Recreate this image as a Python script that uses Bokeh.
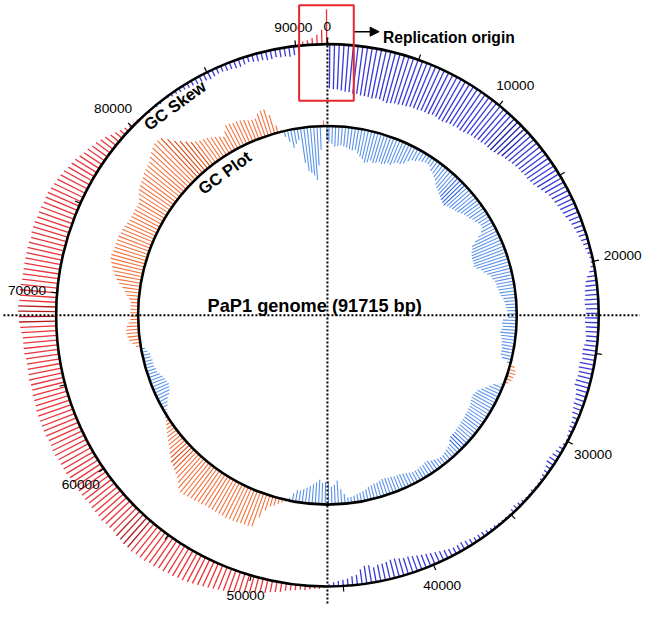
import numpy as np
from bokeh.plotting import figure
from bokeh.models import Range1d, Arrow, NormalHead
from bokeh.core.properties import value
from bokeh.embed import file_html
from bokeh.resources import INLINE

# ---------------- data ----------------
GENOME_BP = 91715
WINDOW_BP = 255   # 360 windows around the genome

# GC skew per window (scaled; + drawn outward in red, - drawn inward in blue)
gc_skew = [
    -45, -46, -46, -47, -48, -48, -49, -49, -50, -50,
    -50, -51, -50, -50, -51, -52, -51, -50, -50, -49,
    -49, -48, -48, -48, -47, -47, -47, -46, -46, -47,
    -47, -46, -45, -45, -44, -45, -44, -43, -42, -42,
    -41, -41, -40, -40, -40, -39, -38, -36, -35, -34,
    -33, -32, -31, -31, -30, -30, -29, -28, -26, -24,
    -22, -20, -19, -18, -17, -16, -15, -14, -12, -11,
    -10, -9, -8, -7, -6, -5, -4, -3, -3, -4,
    -6, -9, -11, -12, -13, -13, -14, -14, -13, -13,
    -14, -14, -13, -13, -12, -12, -13, -14, -14, -13,
    -15, -15, -14, -14, -15, -15, -12, -11, -10, -10,
    -9, -8, -6, -5, -5, -4, -3, -2, -3, -5,
    -6, -7, -8, -8, -6, -5, -4, -3, -2, -2,
    -3, -2, -2, -3, -4, -5, -4, -2, -2, -2,
    -2, -3, -3, -4, -5, -5, -5, -6, -7, -8,
    -7, -7, -8, -9, -10, -11, -12, -13, -14, -15,
    -16, -17, -17, -18, -19, -19, -18, -17, -17, -15,
    -18, -18, -15, -10, -9, -7, -6, -5, -4, -2,
    2, 3, 3, 4, 5, 5, 6, 7, 8, 10,
    11, 12, 14, 15, 16, 18, 19, 20, 22, 23,
    24, 25, 26, 27, 28, 29, 30, 31, 32, 32,
    33, 33, 34, 34, 35, 35, 36, 36, 36, 37,
    36, 36, 35, 35, 34, 34, 34, 35, 34, 34,
    34, 33, 34, 34, 34, 35, 34, 34, 35, 35,
    35, 35, 36, 36, 35, 35, 36, 36, 36, 36,
    36, 36, 35, 35, 35, 34, 34, 35, 34, 34,
    34, 34, 35, 35, 35, 35, 36, 37, 38, 38,
    39, 39, 38, 38, 38, 38, 37, 37, 37, 37,
    37, 37, 37, 37, 36, 37, 37, 37, 36, 36,
    36, 35, 35, 35, 34, 33, 32, 31, 30, 28,
    27, 26, 24, 22, 21, 19, 18, 16, 14, 11,
    9, 7, 5, 3, 2, 2, 1, -1, -2, -1,
    -2, -2, 1, -2, -3, -3, -4, -4, -5, -5,
    -6, -6, -7, -8, -7, -6, -6, -7, -7, -8,
    -8, -7, -6, -7, -8, -8, -9, -9, -8, -9,
    -9, -10, -9, -8, 4, 5, 7, 10, 15, 36,
]

# GC content deviation per window (scaled; + outward orange, - inward blue)
gc_plot = [
    -16, -18, -21, -20, -19, -20, -21, -22, -23, -22,
    -25, -28, -30, -33, -32, -29, -31, -30, -28, -29,
    -28, -26, -27, -24, -22, -22, -20, -16, -13, -12,
    -10, -9, -8, -8, -9, -12, -13, -15, -17, -20,
    -22, -23, -25, -26, -28, -29, -30, -28, -27, -26,
    -25, -24, -22, -20, -19, -18, -16, -15, -13, -12,
    -12, -15, -20, -25, -30, -31, -33, -34, -35, -35,
    -35, -36, -34, -30, -28, -25, -22, -21, -19, -18,
    -18, -17, -16, -15, -13, -12, -11, -11, -10, -10,
    -9, -14, -15, -14, -15, -16, -15, -14, -13, -13,
    -12, -12, -12, -10, -4, 5, 7, 8, 7, 6,
    4, -3, -10, -13, -16, -19, -22, -23, -24, -24,
    -23, -22, -21, -21, -20, -20, -19, -19, -19, -18,
    -18, -18, -17, -17, -17, -15, -12, -11, -10, -9,
    -8, -8, -9, -10, -11, -13, -13, -12, -12, -11,
    -11, -11, -12, -13, -14, -15, -15, -15, -16, -16,
    -17, -17, -16, -15, -15, -14, -13, -11, -10, -9,
    -8, -7, -6, -6, -10, -15, -24, -20, -18, -24,
    -23, -22, -25, -22, -20, -18, -16, -14, -12, -12,
    -8, -3, 2, 4, 6, 9, 11, 16, 25, 36,
    37, 37, 37, 38, 38, 38, 39, 38, 38, 38,
    38, 38, 38, 39, 39, 40, 40, 41, 42, 42,
    40, 36, 33, 31, 29, 27, 26, 23, 21, 18,
    16, 14, 12, 10, 8, 6, 4, 3, -2, -3,
    -6, -8, -10, -13, -15, -16, -17, -16, -15, -14,
    -12, -10, -10, -9, -9, -9, -8, -8, -6, -4,
    5, 8, 11, 12, 13, 13, 12, 10, 8, 8,
    8, 8, 8, 8, 10, 13, 15, 18, 22, 25,
    28, 30, 32, 34, 36, 36, 35, 35, 35, 35,
    35, 34, 34, 33, 32, 31, 31, 31, 31, 31,
    31, 33, 36, 38, 40, 41, 42, 44, 45, 46,
    47, 50, 52, 54, 56, 56, 55, 50, 44, 40,
    36, 32, 30, 28, 27, 26, 24, 22, 20, 18,
    22, 27, 27, 26, 26, 25, 24, 22, 21, 21,
    25, 27, 27, 20, 8, 2, -6, -12, -19, -15,
    -12, -36, -45, -47, -50, -55, -40, -24, 6, -14,
]

major_ticks = [0, 10000, 20000, 30000, 40000, 50000, 60000, 70000, 80000, 90000]
major_labels = ["0", "10000", "20000", "30000", "40000", "50000", "60000", "70000", "80000", "90000"]
minor_ticks = [5000, 15000, 25000, 35000, 45000, 55000, 65000, 75000, 85000]

# windows drawn in a darker shade
dark_skew = [43, 44, 45, 46, 47, 220, 221, 222, 223, 268, 269, 270, 271]
dark_plot = [43, 44, 45, 46, 133, 134, 135, 224, 225, 226, 227, 316, 317, 318, 319, 320, 321]

# ---------------- geometry ----------------
R_OUT = 278.0
R_IN = 194.0
S = 648 / 664.0   # screen px per data unit

W, H = 648, 611
p = figure(width=W, height=H, output_backend="svg", toolbar_location=None,
           x_range=Range1d(-335, 329), y_range=Range1d(-304, 323),
           x_axis_type=None, y_axis_type=None, min_border=0)
p.outline_line_color = None
p.xgrid.visible = False
p.ygrid.visible = False
p.background_fill_color = "white"
p.border_fill_color = "white"


def ang(bp):
    return 2 * np.pi * np.asarray(bp, dtype=float) / GENOME_BP


def ring_segments(vals, r0, pos_col, neg_col, pos_dark, neg_dark, dark_idx, width):
    vals = np.asarray(vals, dtype=float)
    pos = (np.arange(len(vals)) + 0.5) * WINDOW_BP
    th = ang(pos)
    r1 = r0 + vals
    cols = []
    for i, v in enumerate(vals):
        d = i in dark_idx
        if v >= 0:
            cols.append(pos_dark if d else pos_col)
        else:
            cols.append(neg_dark if d else neg_col)
    p.segment(x0=r0 * np.sin(th), y0=r0 * np.cos(th),
              x1=r1 * np.sin(th), y1=r1 * np.cos(th),
              line_color=cols, line_width=width)


ring_segments(gc_skew, R_OUT, "#e8343a", "#3838d8", "#b51c20", "#1c1ca8", dark_skew, 1.3)
ring_segments(gc_plot, R_IN, "#f2733f", "#5b93ea", "#d84e18", "#2d66d8", dark_plot, 1.1)

# circles
p.circle(x=[0, 0], y=[0, 0], radius=[R_OUT, R_IN], fill_color=None,
         line_color="black", line_width=2.6)

# ticks
all_ticks = np.array(major_ticks + minor_ticks)
tth = ang(all_ticks)
p.segment(x0=(R_OUT - 1) * np.sin(tth), y0=(R_OUT - 1) * np.cos(tth),
          x1=(R_OUT + 6) * np.sin(tth), y1=(R_OUT + 6) * np.cos(tth),
          line_color="black", line_width=1.2)

# tick labels
mth = ang(major_ticks)
rl = 296 + 13 * np.abs(np.sin(mth))
p.text(x=rl * np.sin(mth), y=rl * np.cos(mth), text=major_labels,
       text_font=value("Liberation Sans"), text_font_size="13.7px",
       text_align="center", text_baseline="middle", text_color="black")

# dotted cross-hair
p.segment(x0=[-332], y0=[0], x1=[320], y1=[0], line_color="black",
          line_width=2, line_dash="2 2")
p.segment(x0=[0], y0=[285], x1=[0], y1=[-297], line_color="black",
          line_width=2, line_dash="2 2")

# ring labels
p.text(x=[-156], y=[215], text=["GC Skew"], angle=np.deg2rad(36),
       text_font=value("Liberation Sans"), text_font_style="bold",
       text_font_size="16.6px", text_align="center", text_baseline="middle")
p.text(x=[-105], y=[146], text=["GC Plot"], angle=np.deg2rad(36),
       text_font=value("Liberation Sans"), text_font_style="bold",
       text_font_size="16.6px", text_align="center", text_baseline="middle")

# title
p.text(x=[-13], y=[9.5], text=["PaP1 genome (91715 bp)"],
       text_font=value("Liberation Sans"), text_font_style="bold",
       text_font_size="18.2px", text_align="center", text_baseline="alphabetic")

# replication origin box + arrow
p.quad(left=[-29], right=[27], top=[318], bottom=[220], fill_color=None,
       line_color="#e8262b", line_width=2)
p.add_layout(Arrow(end=NormalHead(size=9, fill_color="black", line_color="black"),
                   x_start=28, y_start=291, x_end=53, y_end=291,
                   line_color="black", line_width=1.5))
p.text(x=[57], y=[285], text=["Replication origin"],
       text_font=value("Liberation Sans"), text_font_style="bold",
       text_font_size="15.6px", text_align="left", text_baseline="alphabetic")

open("out.html", "w").write(file_html(p, INLINE))
